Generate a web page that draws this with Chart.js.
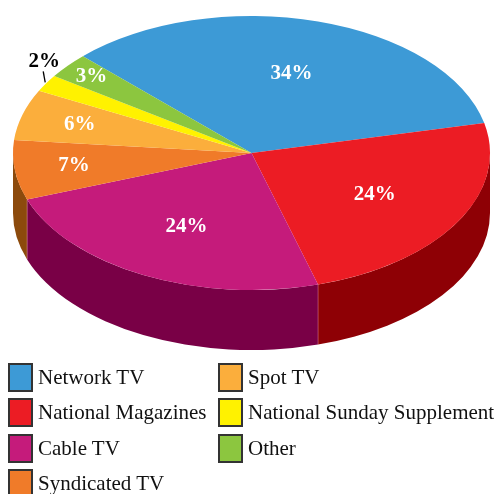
<!DOCTYPE html>
<html>
<head>
<meta charset="utf-8">
<script src="https://cdn.jsdelivr.net/npm/chart.js@4/dist/chart.umd.min.js"></script>
<style>
    body { margin: 0; background: #fff; }
    #wrap { position: relative; width: 502px; height: 494px; }
    #pie { position: absolute; left: 0; top: 0; }
    #legend {
        position: absolute; left: 8px; top: 363px;
        display: grid; grid-auto-flow: column;
        grid-template-columns: 210px auto;
        grid-template-rows: repeat(4, 35.3px);
        font-family: "Liberation Serif", serif; font-size: 21px; color: #111;
    }
    .item { display: flex; align-items: center; height: 29px; white-space: nowrap; }
    .box { width: 25px; height: 29px; box-sizing: border-box; border: 2px solid #333; margin-right: 5px; }
</style>
</head>
<body>
<div id="wrap">
    <canvas id="pie" width="502" height="494"></canvas>
    <div id="legend"></div>
</div>
<script>
// datos del grafico
const categories = ["Network TV", "National Magazines", "Cable TV", "Syndicated TV", "Spot TV", "National Sunday Supplement", "Other"];
const shares = [34, 24, 24, 7, 6, 2, 3];
const pctLabels = ["34%", "24%", "24%", "7%", "6%", "2%", "3%"];

const topColors = ["#3d9ad6", "#ec1c24", "#c51b7b", "#f07b29", "#fbae3c", "#fff200", "#8cc63f"];
const sideColors = ["#1f5f8c", "#8e0005", "#790046", "#8c4a0c", "#9a6010", "#9a9000", "#4f7a1e"];

const TOP_Y = 153;     // centro de la cara superior
const SQUASH = 137 / 238.5;
const DEPTH = 60;

function ellipsePoint(cx, cy, rx, ry, a) {
    return { x: cx + rx * Math.cos(a), y: cy + ry * Math.sin(a) };
}

// plugin que aplasta el pie y le pone los lados
const tiltPlugin = {
    id: "tilt",
    beforeDatasetsDraw(chart) {
        const ctx = chart.ctx;
        const meta = chart.getDatasetMeta(0);
        meta.data.forEach((arc, i) => {
            const p = arc.getProps(["x", "startAngle", "endAngle", "outerRadius"], true);
            const rx = p.outerRadius, ry = p.outerRadius * SQUASH;
            [-2 * Math.PI, 0, 2 * Math.PI].forEach(shift => {
                const a = Math.max(p.startAngle + shift, 0);
                const b = Math.min(p.endAngle + shift, Math.PI);
                if (b <= a) return;
                ctx.beginPath();
                ctx.ellipse(p.x, TOP_Y, rx, ry, 0, a, b, false);
                ctx.ellipse(p.x, TOP_Y + DEPTH, rx, ry, 0, b, a, true);
                ctx.closePath();
                ctx.fillStyle = sideColors[i];
                ctx.fill();
                // costura entre caras
                if (a > 0.001) {
                    const s = ellipsePoint(p.x, TOP_Y, rx, ry, a);
                    ctx.beginPath();
                    ctx.moveTo(s.x, s.y);
                    ctx.lineTo(s.x, s.y + DEPTH);
                    ctx.strokeStyle = "rgba(255,180,200,0.35)";
                    ctx.lineWidth = 1;
                    ctx.stroke();
                }
            });
        });
        const cy = meta.data[0].y, cx = meta.data[0].x;
        ctx.save();
        ctx.translate(cx, TOP_Y);
        ctx.scale(1, SQUASH);
        ctx.translate(-cx, -cy);
    },
    afterDatasetsDraw(chart) {
        const ctx = chart.ctx;
        ctx.restore();
        const meta = chart.getDatasetMeta(0);
        ctx.font = "bold 21px 'Liberation Serif'";
        ctx.textAlign = "center";
        ctx.textBaseline = "middle";
        meta.data.forEach((arc, i) => {
            const p = arc.getProps(["x", "startAngle", "endAngle", "outerRadius"], true);
            const rx = p.outerRadius, ry = p.outerRadius * SQUASH;
            const mid = (p.startAngle + p.endAngle) / 2;
            if (shares[i] < 2.5) {
                // etiqueta afuera con linea
                const e = ellipsePoint(p.x, TOP_Y, rx, ry, mid);
                ctx.beginPath();
                ctx.moveTo(e.x - 1, e.y - 1);
                ctx.lineTo(e.x - 3, e.y - 12);
                ctx.strokeStyle = "#000";
                ctx.lineWidth = 1.3;
                ctx.stroke();
                ctx.fillStyle = "#000";
                ctx.fillText(pctLabels[i], e.x - 2, e.y - 22);
                return;
            }
            // las rebanadas chicas llevan la etiqueta mas afuera
            const f = shares[i] >= 20 ? 0.6 : (shares[i] >= 5 ? 0.75 : 0.87);
            const t = ellipsePoint(p.x, TOP_Y, rx * f, ry * f, mid);
            ctx.fillStyle = "#fff";
            ctx.fillText(pctLabels[i], t.x, t.y);
        });
    }
};

new Chart(document.getElementById("pie"), {
    type: "pie",
    data: {
        labels: categories,
        datasets: [{
            data: shares,
            backgroundColor: topColors,
            borderWidth: 0
        }]
    },
    options: {
        responsive: false,
        animation: false,
        rotation: -45,
        layout: { padding: { left: 13, right: 12, top: 0, bottom: 0 } },
        plugins: {
            legend: { display: false },
            tooltip: { enabled: false }
        }
    },
    plugins: [tiltPlugin]
});

// leyenda en dos columnas
const legend = document.getElementById("legend");
categories.forEach((name, i) => {
    const item = document.createElement("div");
    item.className = "item";
    item.innerHTML = `<span class="box" style="background:${topColors[i]}"></span><span>${name}</span>`;
    legend.appendChild(item);
});
</script>
</body>
</html>
